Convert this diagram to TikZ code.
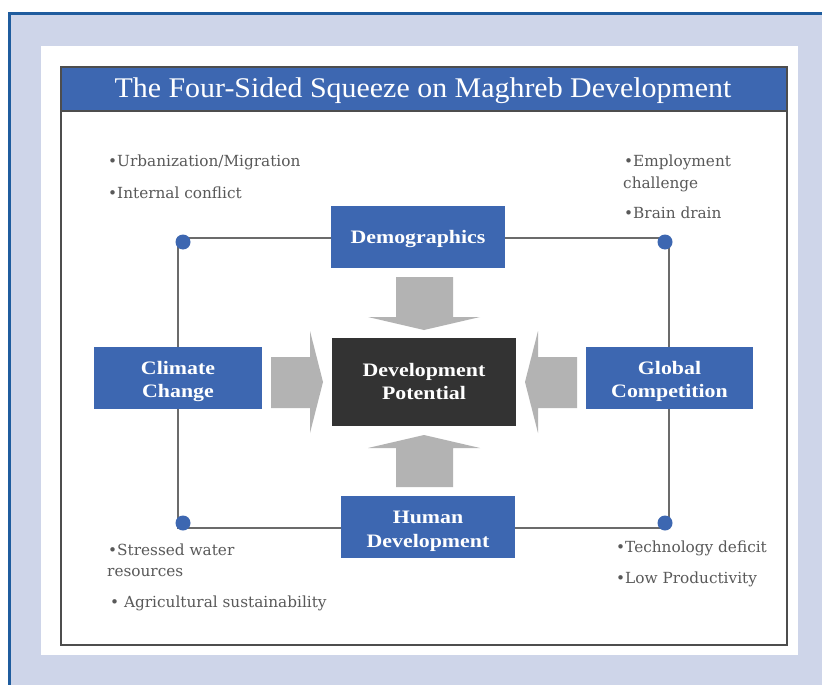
\documentclass[tikz,border=0pt]{standalone}
\usepackage{fontspec}
\setmainfont{Liberation Serif}
\newfontfamily\titlefont[FakeStretch=1.05]{Liberation Serif}
\newfontfamily\boxfont[FakeStretch=1.15]{Liberation Serif}
\newfontfamily\notefont{DejaVu Serif}

\definecolor{pagebg}{HTML}{CED5E9}
\definecolor{edgeblue}{HTML}{1F5C9E}
\definecolor{boxblue}{HTML}{3D67B1}
\definecolor{coredark}{HTML}{333333}
\definecolor{arrowgray}{HTML}{B3B3B3}
\definecolor{framegray}{HTML}{4D4D4D}
\definecolor{loopgray}{HTML}{6B6B6B}
\definecolor{notegray}{HTML}{595959}

% centred label lines, drawn a little below the box centre
\newcommand{\boxlines}[2][3pt]{%
  \raisebox{-#1}[\height][\depth]{\begin{tabular}{@{}c@{}}#2\end{tabular}}}

\tikzset{
  forcebox/.style={fill=boxblue, text=white, inner sep=0pt,
    font=\boxfont\bfseries\fontsize{19}{23.5}\selectfont},
  corebox/.style={forcebox, fill=coredark},
  cornerdot/.style={circle, fill=boxblue, minimum size=15pt, inner sep=0pt},
  note/.style={anchor=base west, inner sep=0pt, text=notegray,
    font=\notefont\fontsize{15.3}{22}\selectfont},
  squeeze/.style={fill=arrowgray},
  looprule/.style={draw=loopgray, line width=2pt},
}

\begin{document}
\begin{tikzpicture}[x=1pt, y=-1pt]
\useasboundingbox (0,0) rectangle (822,685);
\fill[white] (0,0) rectangle (822,685);

% page background with blue edge on top and left
\fill[pagebg] (8,12) rectangle (822,685);
\draw[edgeblue, line width=3pt] (9.5,685) -- (9.5,13.5) -- (822,13.5);

% white panel and framed chart
\fill[white] (41,46) rectangle (798,655);
\draw[framegray, line width=1.5pt] (61,67) rectangle (787,645);
\fill[boxblue] (61,67) rectangle (787,111);
\draw[framegray, line width=1.5pt] (61,67) rectangle (787,111);
\node[anchor=base, inner sep=0pt, text=white,
  font=\titlefont\fontsize{28.5}{30}\selectfont] (title) at (423,97)
  {The Four-Sided Squeeze on Maghreb Development};

% loop joining the four forces
\coordinate (looptl) at (178,237.5);
\coordinate (loopbr) at (669,527.5);
\draw[looprule] (looptl) rectangle (loopbr);

\node[cornerdot] (dottl) at (183,242) {};
\node[cornerdot] (dottr) at (665,242) {};
\node[cornerdot] (dotbl) at (183,523) {};
\node[cornerdot] (dotbr) at (665,523) {};

% the four forces and the core
\node[forcebox, minimum width=174pt, minimum height=62pt] (demo) at (418,237)
  {\boxlines[2pt]{Demographics}};
\node[forcebox, minimum width=168pt, minimum height=62pt] (climate) at (178,378)
  {\boxlines[3.5pt]{Climate\\Change}};
\node[forcebox, minimum width=167pt, minimum height=62pt] (global) at (669.5,378)
  {\boxlines[3.5pt]{Global\\Competition}};
\node[forcebox, minimum width=174pt, minimum height=62pt] (human) at (428,527)
  {\boxlines[4pt]{Human\\Development}};
\node[corebox, minimum width=184pt, minimum height=88pt] (core) at (424,382)
  {\boxlines[1.5pt]{Development\\Potential}};

% block arrows pressing on the core
\fill[squeeze] (396,277) -- (453,277) -- (453,317) -- (480,317) -- (424,330)
  -- (368,317) -- (396,317) -- cycle;
\fill[squeeze] (396,487) -- (453,487) -- (453,448) -- (480,448) -- (424,435)
  -- (368,448) -- (396,448) -- cycle;
\fill[squeeze] (271,357) -- (310,357) -- (310,331) -- (323,382) -- (310,433)
  -- (310,408) -- (271,408) -- cycle;
\fill[squeeze] (577,357) -- (538,357) -- (538,331) -- (525,382) -- (538,433)
  -- (538,408) -- (577,408) -- cycle;

% notes at the corners
\node[note] (urban) at (108,166.7) {•Urbanization/Migration};
\node[note] (conflict) at (108,198.3) {•Internal conflict};
\node[note] (employ) at (624,166.7) {•Employment};
\node[note] (challenge) at (623,188.3) {challenge};
\node[note] (brain) at (624,218.3) {•Brain drain};
\node[note] (water) at (108,555) {•Stressed water};
\node[note] (resources) at (107,576.7) {resources};
\node[note] (agri) at (110,607.7) {• Agricultural sustainability};
\node[note] (tech) at (616,552.7) {•Technology deficit};
\node[note] (lowprod) at (616,583.3) {•Low Productivity};
\end{tikzpicture}
\end{document}
